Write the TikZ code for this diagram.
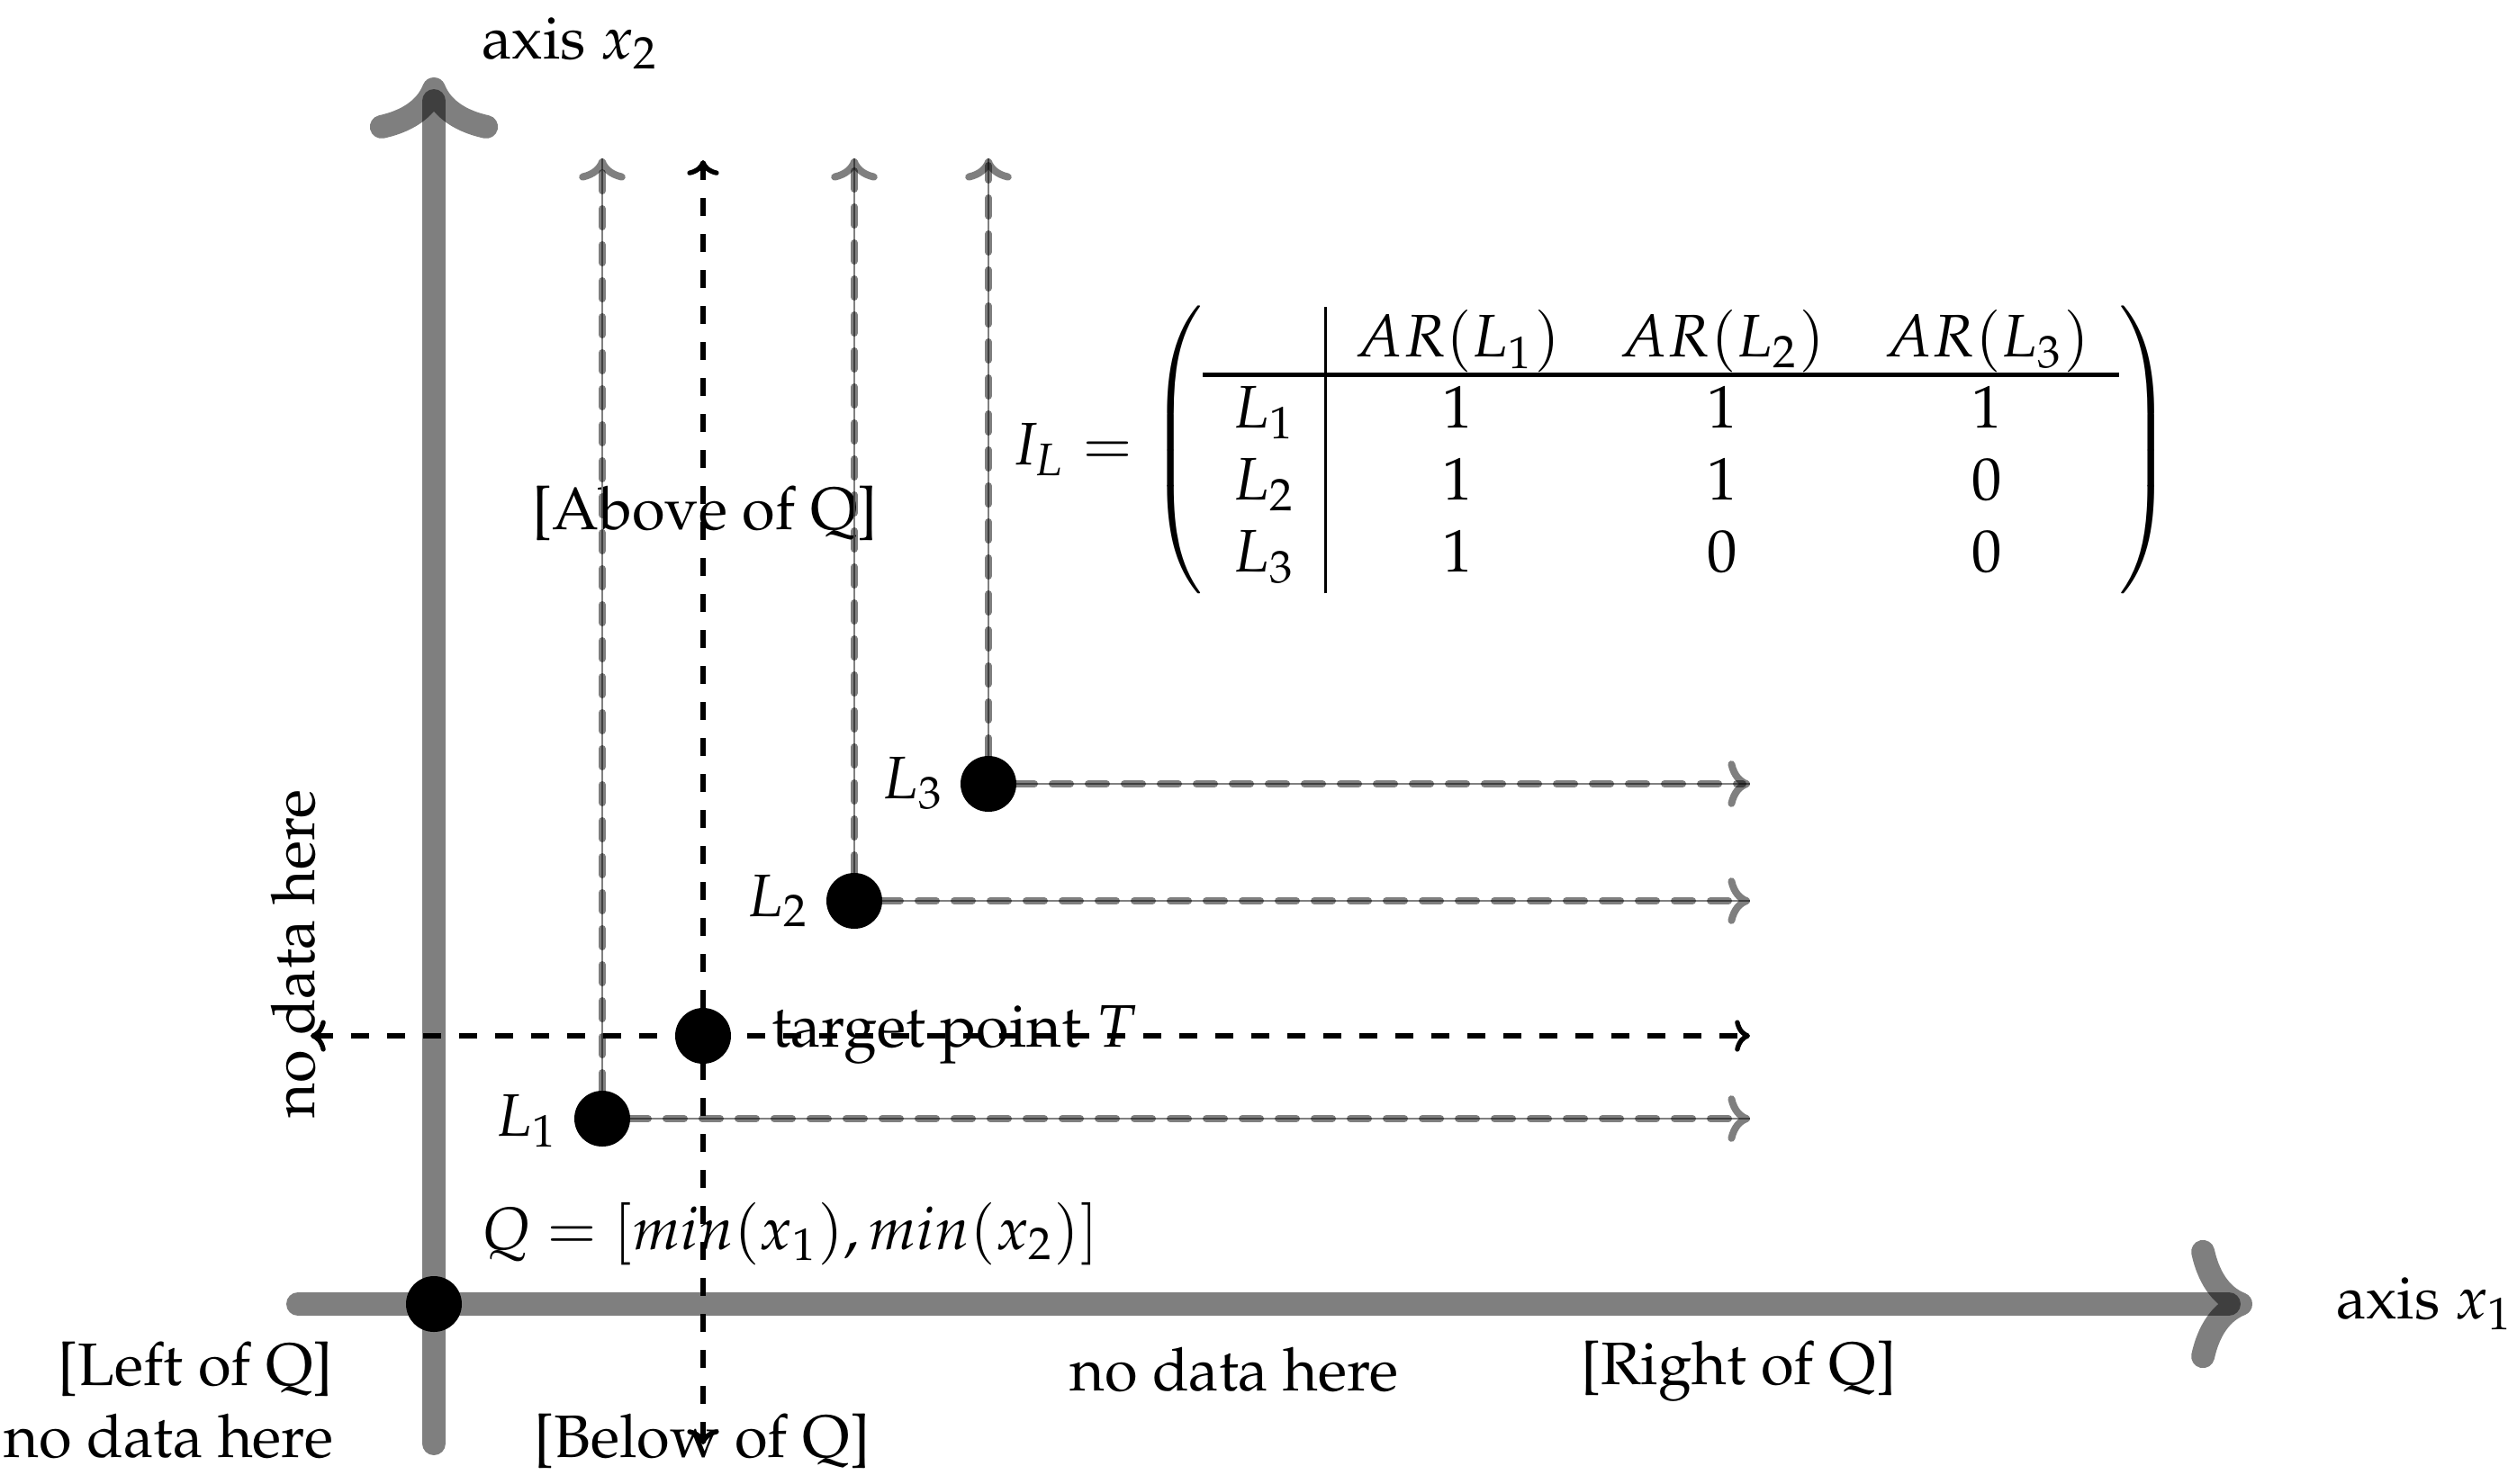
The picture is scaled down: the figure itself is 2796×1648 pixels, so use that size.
\documentclass[tikz,border=0pt]{standalone}
\usepackage[T1]{fontenc}
\usepackage{mathpazo}
\usetikzlibrary{arrows.meta}
\pgfdeclarelayer{foreground}
\pgfsetlayers{main,foreground}
\setlength{\arrayrulewidth}{0.5pt}
\newcommand{\thickhline}{\noalign{\global\arrayrulewidth=0.8pt}\hline\noalign{\global\arrayrulewidth=0.5pt}}
\begin{document}
\begin{tikzpicture}[x=0.15pt, y=-0.15pt,
  txt/.style={inner sep=0pt, outer sep=0pt},
  dot/.style={circle, fill=black, inner sep=0pt, outer sep=0pt, minimum size=9.3pt},
  axisline/.style={-{Computer Modern Rightarrow}, line width=3.9pt, line cap=round, draw=black, opacity=0.5},
  grayline/.style={-{Computer Modern Rightarrow[scale=0.87]}, very thick, dashed, line cap=round, draw=black, opacity=0.5},
  thinline/.style={draw=gray, line width=0.3pt},
  tline/.style={{Computer Modern Rightarrow[scale=0.75]}-{Computer Modern Rightarrow[scale=0.75]}, thick, dashed, draw=black}]
\useasboundingbox (0,0) rectangle (2796,1648);

% points
\begin{pgfonlayer}{foreground}
\node[dot] (Q) at (482,1449) {};
\node[dot] (L1) at (669,1243) {};
\node[dot] (T) at (781,1151) {};
\node[dot] (L2) at (949,1001) {};
\node[dot] (L3) at (1098,871) {};
\end{pgfonlayer}

% texts
\node[txt, anchor=base] (ax2) at (634,65) {axis $x_2$};
\node[txt, anchor=base] (above) at (783,588) {[Above of Q]};
\node[txt, anchor=center] (IL) at (1769,500) {$I_L = \left(\begin{array}{c|ccc} & AR(L_1) & AR(L_2) & AR(L_3)\\[-1pt] \thickhline L_1 & 1 & 1 & 1\\ L_2 & 1 & 1 & 0\\ L_3 & 1 & 0 & 0 \end{array}\right)$};
\node[txt, anchor=base west] (tlab) at (857,1163) {target point $T$};
\node[txt, anchor=base west] (l1lab) at (551,1262) {$L_1$};
\node[txt, anchor=base west] (l2lab) at (830,1018) {$L_2$};
\node[txt, anchor=base west] (l3lab) at (980,887) {$L_3$};
\node[txt, anchor=base west] (qlab) at (535,1388) {$Q = [min(x_1), min(x_2)]$};
\node[txt, anchor=south east, align=right] (leftlab) at (370,1621) {[Left of Q]\\ no data here};
\node[txt, anchor=base] (belowlab) at (780,1619) {[Below of Q]};
\node[txt, anchor=base] (ndlab) at (1371,1545) {no data here};
\node[txt, anchor=base west] (rightlab) at (1756,1538) {[Right of Q]};
\node[txt, anchor=base west] (ax1) at (2595,1465) {axis $x_1$};
\node[txt, anchor=base, rotate=90] (ndv) at (350,1060) {no data here};

% axes
\coordinate (xs) at (331,1449);
\coordinate (xe) at (2502,1449);
\coordinate (ys) at (482,1604);
\coordinate (ye) at (482,86);
\draw[axisline] (xs) -- (xe);
\draw[axisline] (ys) -- (ye);

% target point lines
\coordinate (Tl) at (345,1151);
\coordinate (Tr) at (1944,1151);
\coordinate (Tb) at (781,1605);
\coordinate (Tt) at (781,178);
\draw[tline] (Tl) -- (Tr);
\draw[tline] (Tb) -- (Tt);

% L lines
\coordinate (L1u) at (669,176);
\coordinate (L1r) at (1944,1243);
\coordinate (L2u) at (949,176);
\coordinate (L2r) at (1944,1001);
\coordinate (L3u) at (1098,176);
\coordinate (L3r) at (1944,871);
\foreach \a/\b in {L1/L1u, L1/L1r, L2/L2u, L2/L2r, L3/L3u, L3/L3r} {
  \draw[thinline] (\a) -- (\b);
  \draw[grayline] (\a) -- (\b);
}
\end{tikzpicture}
\end{document}
